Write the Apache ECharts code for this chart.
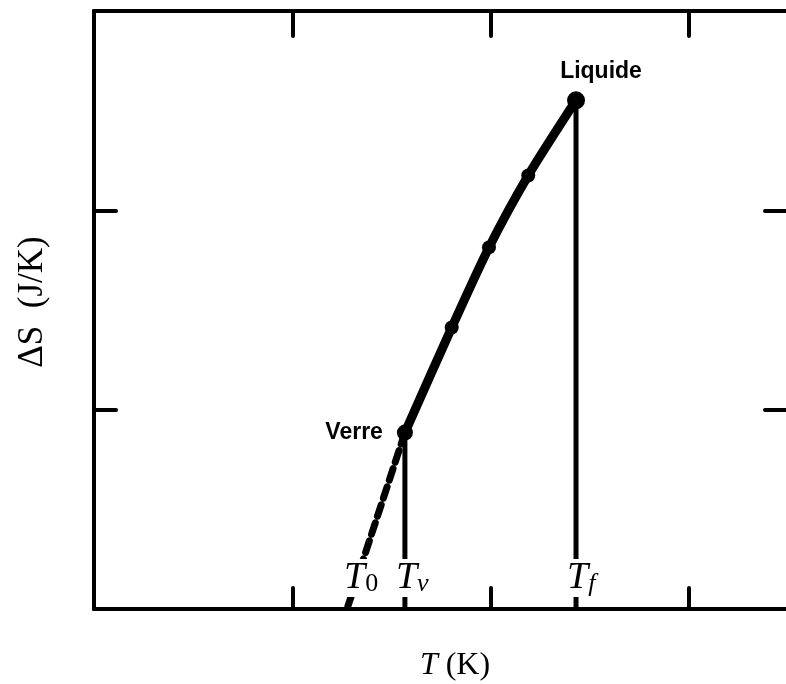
<!DOCTYPE html>
<html>
<head>
<meta charset="utf-8">
<script src="https://cdn.jsdelivr.net/npm/echarts@6/dist/echarts.min.js"></script>
<style>
  html, body { margin: 0; padding: 0; background: #fff; }
  #chart { width: 786px; height: 684px; }
</style>
</head>
<body>
<div id="chart"></div>
<script>
// Entropy of the supercooled liquid, from the glass point up to melting
const liquidT = [1.568, 1.804, 1.992, 2.190, 2.431];
const liquidS = [0.885, 1.412, 1.814, 2.175, 2.552];
const liquidNames = ['Verre', '', '', '', 'Liquide'];
// Extrapolation of the liquid branch below the glass transition
const extrapT = [1.568, 1.276];
const extrapS = [0.885, 0];
// Characteristic temperatures marked on the T axis
const markNames = ['T0', 'Tv', 'Tf'];
const markT = [1.276, 1.568, 2.431];
const markSub = ['0', 'v', 'f'];
// Tick positions on the frame
const xTicks = [0, 1, 2, 3];
const yTicks = [0, 1, 2, 3];

const serif = '"Liberation Serif", "DejaVu Serif", serif';
const sans = '"Liberation Sans", Arial, sans-serif';
const black = '#000';

function frameAxis(extra, tickValues, tickLen, showLine) {
  return Object.assign({
    type: 'value',
    interval: 1,
    axisLine: { show: showLine, onZero: false, lineStyle: { color: black, width: 4 } },
    axisTick: {
      show: true, inside: true, length: tickLen, customValues: tickValues,
      lineStyle: { color: black, width: 4, cap: 'round' }
    },
    axisLabel: { show: false },
    splitLine: { show: false }
  }, extra);
}

const chart = echarts.init(document.getElementById('chart'), null, { renderer: 'canvas' });

const liquidData = liquidT.map((t, i) => {
  const item = { value: [t, liquidS[i]], symbolSize: 14 };
  if (liquidNames[i] === 'Verre') {
    item.symbolSize = 16;
    item.label = { show: true, formatter: 'Verre', position: 'left', distance: 14 };
  } else if (liquidNames[i] === 'Liquide') {
    item.symbolSize = 18;
    item.label = { show: true, formatter: 'Liquide', position: 'top', distance: 8, offset: [25, 0] };
  }
  return item;
});

const subItalic = { v: true, f: true, '0': false };
const markData = markT.map((t, i) => ({
  value: [t, 0],
  label: {
    formatter: '{t|T}{s' + (subItalic[markSub[i]] ? 'i' : 'u') + '|' + markSub[i] + '}',
    offset: [i === 0 ? -5 : -11, -31]
  }
}));

chart.setOption({
  animation: false,
  backgroundColor: '#fff',
  grid: { left: 94, right: 0, top: 11, bottom: 75, containLabel: false },
  xAxis: [
    frameAxis({ min: 0, max: 3.49, position: 'bottom' }, xTicks, 21, true),
    frameAxis({ min: 0, max: 3.49, position: 'top' }, xTicks, 25, true)
  ],
  yAxis: [
    frameAxis({ min: 0, max: 3, position: 'left' }, yTicks, 22, true),
    frameAxis({ min: 0, max: 3, position: 'right' }, yTicks, 21, false)
  ],
  graphic: [
    {
      type: 'text', x: 33, y: 302, rotation: Math.PI / 2,
      style: {
        text: 'ΔS  (J/K)', font: '35px ' + serif, fill: black,
        textAlign: 'center', textVerticalAlign: 'middle'
      }
    },
    {
      type: 'text', x: 455, y: 666,
      style: {
        text: '{i|T} (K)',
        rich: { i: { fontStyle: 'italic', fontFamily: serif, fontSize: 32 } },
        font: '32px ' + serif, fill: black,
        textAlign: 'center', textVerticalAlign: 'middle'
      }
    }
  ],
  series: [
    {
      name: 'Tv', type: 'line', symbol: 'none', z: 2,
      data: [[liquidT[0], liquidS[0]], [liquidT[0], 0]],
      lineStyle: { color: black, width: 5 }
    },
    {
      name: 'Tf', type: 'line', symbol: 'none', z: 2,
      data: [[liquidT[4], liquidS[4]], [liquidT[4], 0]],
      lineStyle: { color: black, width: 5 }
    },
    {
      name: 'extrapolation', type: 'line', symbol: 'none', z: 2,
      data: extrapT.map((t, i) => [t, extrapS[i]]),
      lineStyle: { color: black, width: 7, type: [12, 7], cap: 'round' }
    },
    {
      name: 'liquide', type: 'line', z: 3, smooth: 0.25,
      symbol: 'circle',
      data: liquidData,
      lineStyle: { color: black, width: 9, cap: 'round' },
      itemStyle: { color: black },
      label: { fontFamily: sans, fontWeight: 'bold', fontSize: 23, color: black }
    },
    {
      name: 'marks', type: 'scatter', z: 5, symbolSize: 0,
      data: markData,
      itemStyle: { opacity: 1 },
      label: {
        show: true, position: 'inside', align: 'left', verticalAlign: 'middle',
        backgroundColor: '#fff', padding: [0, 2, 0, 2],
        rich: {
          t: { fontFamily: serif, fontStyle: 'italic', fontSize: 38, color: black, lineHeight: 38, verticalAlign: 'top' },
          su: { fontFamily: serif, fontSize: 26, color: black, lineHeight: 24, verticalAlign: 'bottom' },
          si: { fontFamily: serif, fontStyle: 'italic', fontSize: 26, color: black, lineHeight: 24, verticalAlign: 'bottom' }
        }
      }
    }
  ]
});
</script>
</body>
</html>
